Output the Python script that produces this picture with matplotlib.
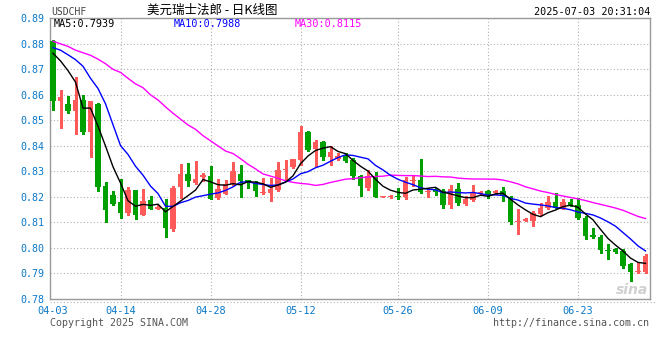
import matplotlib
matplotlib.use('Agg')
import matplotlib.pyplot as plt
import numpy as np
from matplotlib.lines import Line2D

# ---- data ----
opens = [0.8810, 0.8576, 0.8566, 0.8538, 0.8580, 0.8456, 0.8563, 0.8243, 0.8209, 0.8180,
         0.8137, 0.8227, 0.8131, 0.8188, 0.8154, 0.8155, 0.8074, 0.8238, 0.8289, 0.8255,
         0.8280, 0.8283, 0.8196, 0.8213, 0.8252, 0.8291, 0.8265, 0.8255, 0.8216, 0.8216,
         0.8226, 0.8304, 0.8319, 0.8343, 0.8456, 0.8388, 0.8414, 0.8356, 0.8349, 0.8361,
         0.8345, 0.8283, 0.8235, 0.8283, 0.8201, 0.8201, 0.8205, 0.8200, 0.8262, 0.8268,
         0.8221, 0.8229, 0.8225, 0.8170, 0.8231, 0.8174, 0.8187, 0.8212, 0.8222, 0.8216,
         0.8225, 0.8200, 0.8103, 0.8105, 0.8105, 0.8134, 0.8157, 0.8181, 0.8151, 0.8180,
         0.8170, 0.8118, 0.8049, 0.8044, 0.7992, 0.7995, 0.7988, 0.7936, 0.7905, 0.7906]
highs = [0.8814, 0.8618, 0.8595, 0.8669, 0.8599, 0.8577, 0.8567, 0.8258, 0.8223, 0.8269,
         0.8238, 0.8229, 0.8232, 0.8202, 0.8168, 0.8190, 0.8241, 0.8330, 0.8332, 0.8339,
         0.8294, 0.8320, 0.8270, 0.8268, 0.8336, 0.8326, 0.8265, 0.8262, 0.8274, 0.8274,
         0.8335, 0.8343, 0.8350, 0.8478, 0.8458, 0.8423, 0.8419, 0.8400, 0.8371, 0.8371,
         0.8352, 0.8287, 0.8306, 0.8296, 0.8205, 0.8209, 0.8235, 0.8280, 0.8287, 0.8348,
         0.8235, 0.8235, 0.8231, 0.8248, 0.8255, 0.8203, 0.8248, 0.8222, 0.8229, 0.8229,
         0.8239, 0.8203, 0.8151, 0.8118, 0.8144, 0.8177, 0.8203, 0.8216, 0.8190, 0.8190,
         0.8196, 0.8125, 0.8079, 0.8049, 0.8014, 0.8001, 0.7995, 0.7942, 0.7945, 0.7975]
lows = [0.8539, 0.8471, 0.8529, 0.8445, 0.8448, 0.8356, 0.8225, 0.8100, 0.8170, 0.8118,
        0.8131, 0.8115, 0.8128, 0.8151, 0.8151, 0.8042, 0.8068, 0.8196, 0.8242, 0.8252,
        0.8261, 0.8190, 0.8193, 0.8210, 0.8248, 0.8200, 0.8236, 0.8203, 0.8213, 0.8183,
        0.8222, 0.8261, 0.8315, 0.8326, 0.8380, 0.8320, 0.8343, 0.8326, 0.8345, 0.8337,
        0.8270, 0.8205, 0.8229, 0.8199, 0.8198, 0.8195, 0.8190, 0.8190, 0.8242, 0.8216,
        0.8200, 0.8209, 0.8157, 0.8157, 0.8170, 0.8170, 0.8183, 0.8209, 0.8196, 0.8212,
        0.8183, 0.8092, 0.8053, 0.8105, 0.8086, 0.8131, 0.8151, 0.8157, 0.8151, 0.8164,
        0.8112, 0.8036, 0.8040, 0.7979, 0.7958, 0.7982, 0.7923, 0.7871, 0.7900, 0.7900]
closes = [0.8576, 0.8593, 0.8535, 0.8580, 0.8456, 0.8576, 0.8238, 0.8148, 0.8173, 0.8138,
          0.8228, 0.8131, 0.8184, 0.8154, 0.8161, 0.8078, 0.8236, 0.8289, 0.8261, 0.8270,
          0.8284, 0.8192, 0.8232, 0.8252, 0.8300, 0.8261, 0.8255, 0.8222, 0.8219, 0.8231,
          0.8306, 0.8310, 0.8348, 0.8456, 0.8382, 0.8414, 0.8356, 0.8378, 0.8361, 0.8339,
          0.8281, 0.8242, 0.8283, 0.8200, 0.8203, 0.8204, 0.8199, 0.8265, 0.8265, 0.8218,
          0.8223, 0.8218, 0.8170, 0.8231, 0.8177, 0.8190, 0.8218, 0.8218, 0.8209, 0.8225,
          0.8203, 0.8101, 0.8105, 0.8112, 0.8138, 0.8157, 0.8179, 0.8157, 0.8179, 0.8166,
          0.8116, 0.8047, 0.8043, 0.7992, 0.7988, 0.7986, 0.7930, 0.7906, 0.7907, 0.7969]

# moving-average values at the start of the window (need history before the window)
ma5_head = [0.8763, 0.8733, 0.8695, 0.8650]
ma10_head = [0.8785, 0.8775, 0.8757, 0.8738, 0.8712, 0.8665, 0.8625, 0.8565, 0.8483]
ma30_head = [0.8810, 0.8800, 0.8790, 0.8775, 0.8765, 0.8755, 0.8740, 0.8722, 0.8700, 0.8688,
             0.8665, 0.8643, 0.8628, 0.8600, 0.8580, 0.8553, 0.8528, 0.8505, 0.8482, 0.8465,
             0.8440, 0.8420, 0.8400, 0.8380, 0.8370, 0.8350, 0.8328, 0.8310, 0.8290]

tick_idx = [0, 9, 21, 33, 46, 58, 70]
tick_labels = ['04-03', '04-14', '04-28', '05-12', '05-26', '06-09', '06-23']
y_ticks = [0.78, 0.79, 0.80, 0.81, 0.82, 0.83, 0.84, 0.85, 0.86, 0.87, 0.88, 0.89]
ma_labels = ['MA5:0.7939', 'MA10:0.7988', 'MA30:0.8115']
title = '美元瑞士法郎 - 日K线图'
symbol = 'USDCHF'
timestamp = '2025-07-03 20:31:04'


def moving_avg(vals, n, head):
    out = []
    for i in range(len(vals)):
        if i < len(head):
            out.append(head[i])
        else:
            out.append(float(np.mean(vals[i - n + 1:i + 1])))
    return out


ma5 = moving_avg(closes, 5, ma5_head)
ma10 = moving_avg(closes, 10, ma10_head)
ma30 = moving_avg(closes, 30, ma30_head)

# ---- styling ----
UP = '#ff5a5a'
DOWN = '#00a000'
AXBLUE = '#0a78c8'
FRAME = '#999999'
GRID = '#b0b0b0'
MONO = 'DejaVu Sans Mono'

W, H = 660, 360
fig = plt.figure(figsize=(6.6, 3.6), dpi=100)
left, right, top, bottom = 50, 650, 18.3, 299
ax = fig.add_axes([left / W, 1 - bottom / H, (right - left) / W, (bottom - top) / H])

n = len(closes)
x = np.arange(n)
ax.set_xlim(-0.4, -0.4 + (right - left) / 7.5)
ax.set_ylim(0.78, 0.8888)

# grid
for yt in y_ticks[1:]:
    ax.axhline(yt, color=GRID, lw=0.8, ls=(0, (1, 2)), zorder=0)
for xt in tick_idx[1:]:
    ax.axvline(xt, color=GRID, lw=0.8, ls=(0, (1, 2)), zorder=0)

# candles
min_body = 0.0004
for i in range(n):
    o, h, l, c = opens[i], highs[i], lows[i], closes[i]
    col = UP if c >= o else DOWN
    ax.vlines(x[i], l, h, color=col, lw=0.9, zorder=2, antialiased=False)
    b = min(o, c)
    hgt = max(abs(c - o), min_body)
    ax.bar(x[i], hgt, bottom=b, width=0.78, color=col, edgecolor='none', zorder=3,
           antialiased=False)

# MA lines
ax.plot(x, ma30, color='#ff00ff', lw=1.0, zorder=4)
ax.plot(x, ma10, color='#0000ff', lw=1.0, zorder=5)
ax.plot(x, ma5, color='#000000', lw=1.0, zorder=6)

# axes / ticks
ax.set_yticks(y_ticks)
ax.set_yticklabels([f'{v:.2f}' for v in y_ticks], fontfamily=MONO, fontsize=7.2, color=AXBLUE)
ax.set_xticks(tick_idx)
ax.set_xticklabels(tick_labels, fontfamily=MONO, fontsize=7.4, color=AXBLUE)
ax.tick_params(axis='both', length=0)
ax.tick_params(axis='y', pad=4)
ax.tick_params(axis='x', pad=5)
for s in ax.spines.values():
    s.set_color(FRAME)
    s.set_linewidth(1.0)

# dotted line under the plot
fig.add_artist(Line2D([left / W, 655 / W], [1 - 301.5 / H, 1 - 301.5 / H],
                      color=GRID, lw=0.8, ls=(0, (1, 2))))

# header texts
fig.text(51 / W, 1 - 12 / H, symbol, fontfamily=MONO, fontsize=7, color='#444444',
         va='center', ha='left')
fig.text(212 / W, 1 - 10 / H, title, family=['Noto Sans CJK SC', 'DejaVu Sans'],
         fontsize=9, color='#000000', va='center', ha='center')
fig.text(650 / W, 1 - 12 / H, timestamp, fontfamily=MONO, fontsize=7.3, color='#000000',
         va='center', ha='right')
ma_x = [54, 174, 295]
ma_cols = ['#000000', '#0000ff', '#ff00ff']
for xx, lab, col in zip(ma_x, ma_labels, ma_cols):
    fig.text(xx / W, 1 - 24 / H, lab, fontfamily=MONO, fontsize=7.3, color=col,
             va='center', ha='left')

# footer
fig.text(50 / W, 1 - 323 / H, 'Copyright 2025 SINA.COM', fontfamily=MONO, fontsize=7.2,
         color='#555555', va='center', ha='left')
fig.text(649 / W, 1 - 323 / H, 'http://finance.sina.com.cn', fontfamily=MONO, fontsize=7.2,
         color='#555555', va='center', ha='right')

# faint watermark
fig.text(632 / W, 1 - 290 / H, 'sina', fontsize=10, fontweight='bold', fontstyle='italic',
         color='#d0d0d0', va='center', ha='center', zorder=1)

fig.savefig('out.png', dpi=100)
